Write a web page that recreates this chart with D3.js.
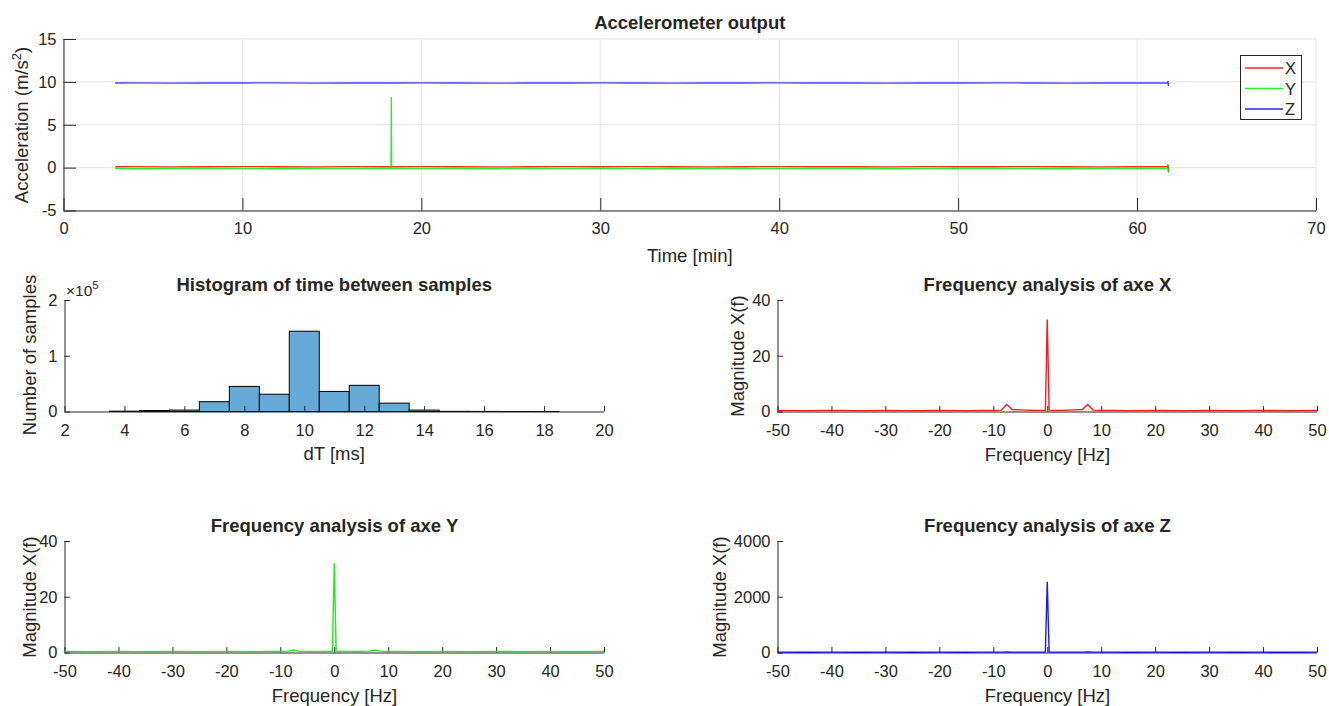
<!DOCTYPE html>
<html><head><meta charset="utf-8">
<script src="https://cdn.jsdelivr.net/npm/d3@7"></script>
<style>
html,body{margin:0;padding:0;background:#fff;}
svg text{font-family:"Liberation Sans",Arial,Helvetica,sans-serif;fill:#262626;}
</style></head>
<body><svg id="chart" width="1329" height="706"></svg>
<script>
// ---------------- data ----------------
const timeMin = [2.89,4,6,8,10,12,14,16,18,18.30,18.32,18.34,20,22,24,26,28,30,32,34,36,38,40,42,44,46,48,50,52,54,56,58,60,61.70,61.73,61.75,61.77];
const accX = [0.10,0.11,0.09,0.10,0.12,0.10,0.09,0.11,0.10,0.10,0.12,0.10,0.11,0.10,0.09,0.10,0.11,0.10,0.12,0.10,0.09,0.10,0.11,0.10,0.10,0.09,0.11,0.10,0.10,0.12,0.10,0.09,0.10,0.10,0.35,-0.55,0.10];
const accY = [-0.12,-0.13,-0.11,-0.12,-0.12,-0.13,-0.11,-0.12,-0.12,-0.12,8.25,-0.12,-0.12,-0.11,-0.13,-0.12,-0.12,-0.11,-0.12,-0.13,-0.12,-0.12,-0.11,-0.12,-0.12,-0.13,-0.12,-0.11,-0.12,-0.12,-0.13,-0.12,-0.12,-0.12,0.15,-0.45,-0.12];
const accZ = [9.87,9.88,9.86,9.87,9.87,9.88,9.86,9.87,9.87,9.87,9.87,9.87,9.88,9.87,9.86,9.87,9.87,9.88,9.87,9.86,9.87,9.87,9.88,9.87,9.87,9.86,9.87,9.87,9.88,9.87,9.86,9.87,9.87,9.87,10.10,9.52,9.87];
const seriesNames = ["X","Y","Z"];
const seriesColors = ["#ff0000","#00ee00","#0000ff"];

const histBinStart = [3.5,4.5,5.5,6.5,7.5,8.5,9.5,10.5,11.5,12.5,13.5,14.5,15.5,16.5,17.5];
const histCounts = [600,1800,2500,17600,45000,31000,144000,36000,47000,15000,2500,300,150,100,80];

const freqHz = [-50,-45,-40,-35,-30,-25,-20,-15,-12,-10,-8.5,-7.5,-6.5,-5,-3,-1,-0.35,0,0.35,1,3,5,6.5,7.5,8.5,10,12,15,20,25,30,35,40,45,50];
const magX = [0.4,0.3,0.4,0.3,0.4,0.3,0.4,0.3,0.4,0.4,0.5,2.5,0.7,0.6,0.4,0.4,0.4,33,0.5,0.4,0.4,0.6,0.7,2.5,0.5,0.4,0.4,0.3,0.4,0.3,0.4,0.3,0.4,0.3,0.4];
const magY = [0.4,0.3,0.4,0.3,0.4,0.3,0.4,0.3,0.4,0.4,0.5,0.9,0.5,0.4,0.4,0.4,0.4,32,0.5,0.4,0.4,0.4,0.5,0.9,0.5,0.4,0.4,0.3,0.4,0.3,0.4,0.3,0.4,0.3,0.4];
const magZ = [12,10,12,10,12,10,12,10,12,12,14,16,14,12,12,12,14,2540,14,12,12,12,14,16,14,12,12,10,12,10,12,10,12,10,12];

const topXTicks = [0,10,20,30,40,50,60,70];
const topYTicks = [-5,0,5,10,15];
const histXTicks = [2,4,6,8,10,12,14,16,18,20];
const histYTicks = [0,100000,200000];
const freqTicks = [-50,-40,-30,-20,-10,0,10,20,30,40,50];
const freqYTicksXY = [0,20,40];
const freqYTicksZ = [0,2000,4000];

// ---------------- drawing ----------------
const svg = d3.select("#chart");
const AX = "#262626";
const TICK_FS = 16.5, LAB_FS = 18.5, TITLE_FS = 18.5;

function drawGrid(g, x, y, o) {
  const [x0,x1] = x.range(), [y0,y1] = y.range();
  const gg = g.append("g");
  gg.selectAll("line.gx").data(o.xTicks).join("line")
    .attr("x1", d=>x(d)).attr("x2", d=>x(d)).attr("y1", y0).attr("y2", y1)
    .attr("stroke", "#e3e3e3").attr("stroke-width", 1);
  gg.selectAll("line.gy").data(o.yTicks).join("line")
    .attr("y1", d=>y(d)).attr("y2", d=>y(d)).attr("x1", x0).attr("x2", x1)
    .attr("stroke", "#e3e3e3").attr("stroke-width", 1);
}
function drawAxisLines(g, x, y, o) {
  const [x0,x1] = x.range(), [y0,y1] = y.range();
  const xa = d3.axisBottom(x).tickValues(o.xTicks).tickSizeInner(-o.tl).tickSizeOuter(0).tickPadding(o.xpad)
    .tickFormat(o.xFmt || (d=>d));
  const ya = d3.axisLeft(y).tickValues(o.yTicks).tickSizeInner(-o.tl).tickSizeOuter(0).tickPadding(7)
    .tickFormat(o.yFmt || (d=>d));
  const gx = g.append("g").attr("transform", `translate(0,${y0})`).call(xa);
  const gy = g.append("g").attr("transform", `translate(${x0},0)`).call(ya);
  [gx,gy].forEach(a=>{
    a.select(".domain").attr("stroke", AX).attr("stroke-width", 1);
    a.selectAll(".tick line").attr("stroke", AX).attr("stroke-width", 1);
    a.selectAll(".tick text").attr("font-size", TICK_FS).attr("fill", AX)
      .style("font-family", '"Liberation Sans",Arial,sans-serif');
  });
  gx.select(".domain").attr("d", `M${x0},0.5H${x1}`);
  gy.select(".domain").attr("d", `M0.5,${y0}V${y1}`);
}
function title(txt, cx, yb) {
  svg.append("text").attr("x", cx).attr("y", yb).attr("text-anchor","middle")
    .attr("font-size", TITLE_FS).attr("font-weight","bold").attr("fill","#000").text(txt);
}
function xlabel(txt, cx, yb) {
  svg.append("text").attr("x", cx).attr("y", yb).attr("text-anchor","middle")
    .attr("font-size", LAB_FS).text(txt);
}
function ylabel(txt, xc, cy) {
  return svg.append("text").attr("transform", `translate(${xc},${cy}) rotate(-90)`)
    .attr("text-anchor","middle").attr("font-size", LAB_FS).text(txt);
}

// ---- Top plot ----
{
  const x = d3.scaleLinear().domain([0,70]).range([63.5,1316]);
  const y = d3.scaleLinear().domain([-5,15]).range([210.5,39]);
  const g = svg.append("g");
  drawGrid(g, x, y, {xTicks:topXTicks, yTicks:topYTicks});
  const series = [accX, accY, accZ];
  const line = d3.line().x((d,i)=>x(timeMin[i])).y(d=>y(d));
  series.forEach((s,k)=>{
    g.append("path").attr("d", line(s)).attr("fill","none")
      .attr("stroke", seriesColors[k]).attr("stroke-width", 1.3).attr("stroke-opacity", k===2?0.75:0.85);
  });
  drawAxisLines(g, x, y, {xTicks:topXTicks, yTicks:topYTicks, tl:12.5, xpad:12});
  title("Accelerometer output", (x.range()[0]+x.range()[1])/2, 29);
  xlabel("Time [min]", (x.range()[0]+x.range()[1])/2, 262);
  const yl = ylabel("", 28, 125);
  yl.append("tspan").text("Acceleration (m/s");
  yl.append("tspan").attr("font-size", 13).attr("dy", -7).text("2");
  yl.append("tspan").attr("dy", 7).text(")");
  // legend
  const lg = g.append("g");
  lg.append("rect").attr("x",1240.5).attr("y",55.5).attr("width",61).attr("height",64)
    .attr("fill","#fff").attr("stroke",AX).attr("stroke-width",1);
  seriesNames.forEach((n,k)=>{
    const yy = 68 + k*20.5;
    lg.append("line").attr("x1",1245).attr("x2",1283).attr("y1",yy).attr("y2",yy)
      .attr("stroke", seriesColors[k]).attr("stroke-width",1.3).attr("stroke-opacity",0.85);
    lg.append("text").attr("x",1285).attr("y",yy+6).attr("font-size",TICK_FS).text(n);
  });
}

// ---- Histogram ----
{
  const x = d3.scaleLinear().domain([2,20]).range([64.5,604]);
  const y = d3.scaleLinear().domain([0,200000]).range([411.5,300]);
  const g = svg.append("g");
  g.selectAll("rect.bar").data(histCounts).join("rect")
    .attr("x", (d,i)=>x(histBinStart[i])).attr("width", (d,i)=>x(histBinStart[i]+1)-x(histBinStart[i]))
    .attr("y", d=>y(d)).attr("height", d=>y(0)-y(d))
    .attr("fill","#66aad7").attr("stroke","#000").attr("stroke-width",1);
  drawAxisLines(g, x, y, {xTicks:histXTicks, yTicks:histYTicks, tl:5.4, xpad:13, yFmt:d=>d/100000});
  const t = svg.append("text").attr("x",66).attr("y",296).attr("font-size",15.5).attr("fill",AX);
  t.append("tspan").text("\u00d710");
  t.append("tspan").attr("font-size",11.5).attr("dy",-7).text("5");
  title("Histogram of time between samples", (64.5+604)/2, 291);
  xlabel("dT [ms]", (64.5+604)/2, 460);
  ylabel("Number of samples", 36, 355);
}

// ---- Frequency plots ----
function freqPlot(mag, color, left, top, yMax, yTicks, name, ylx) {
  const x = d3.scaleLinear().domain([-50,50]).range([left, left+539.5]);
  const y = d3.scaleLinear().domain([0,yMax]).range([top+111.5, top]);
  const g = svg.append("g");
  const line = d3.line().x((d,i)=>x(freqHz[i])).y(d=>y(d));
  drawAxisLines(g, x, y, {xTicks:freqTicks, yTicks:yTicks, tl:5.4, xpad:13});
  g.append("path").attr("d", line(mag)).attr("fill","none").attr("stroke", color)
    .attr("stroke-width",1.4).attr("stroke-opacity",0.9);
  title("Frequency analysis of axe " + name, left+270, top-9);
  xlabel("Frequency [Hz]", left+270, top+161);
  ylabel("Magnitude X(f)", ylx, top+56);
}
freqPlot(magX, "#ff0000", 777.5, 300, 40, freqYTicksXY, "X", 744);
freqPlot(magY, "#00ee00", 64.5, 541, 40, freqYTicksXY, "Y", 36);
freqPlot(magZ, "#0000ff", 777.5, 541, 4000, freqYTicksZ, "Z", 726);
</script></body></html>
